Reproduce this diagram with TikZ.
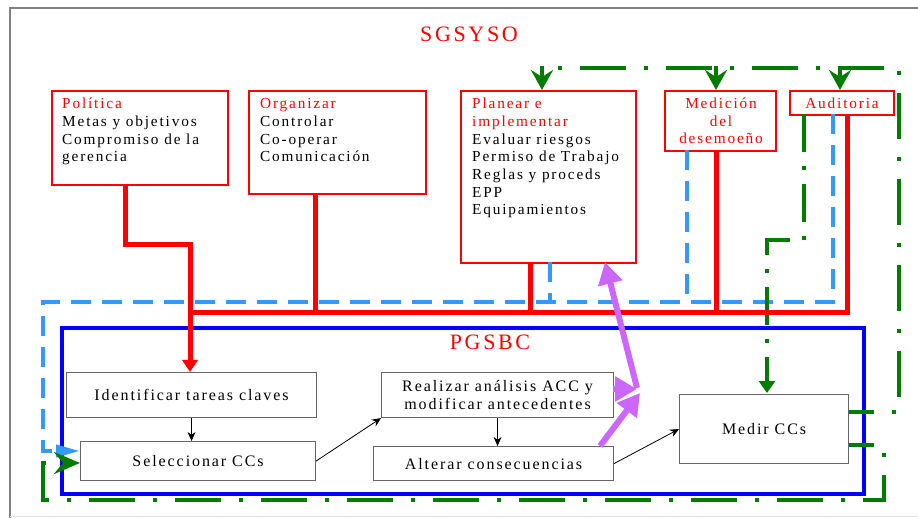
\documentclass[tikz,border=0pt]{standalone}
\usepackage{fontspec}
\setmainfont{Liberation Serif}[LetterSpace=12]
\usetikzlibrary{arrows.meta}
\definecolor{sred}{RGB}{255,0,0}
\definecolor{sblue}{RGB}{0,0,255}
\definecolor{lblue}{RGB}{51,153,255}
\definecolor{dgreen}{RGB}{0,125,0}
\definecolor{violetc}{RGB}{204,102,255}
\definecolor{framegray}{RGB}{128,128,128}
\begin{document}
\begin{tikzpicture}[x=1pt,y=-1pt,
  redbox/.style={draw=sred,line width=1.8pt,inner sep=0pt,anchor=north west},
  boxtxt/.style={inner sep=0pt,anchor=base west,align=left,font=\fontsize{15.3}{17.7}\selectfont},
  ctrtxt/.style={inner sep=0pt,anchor=base,align=center,text=sred,font=\fontsize{15.3}{17.7}\selectfont},
  blkbox/.style={draw=black!60,line width=1.1pt,inner sep=0pt,anchor=north west,align=center,font=\fontsize{16}{17.5}\selectfont},
  redline/.style={draw=sred,line width=5pt},
  bluedash/.style={draw=lblue,line width=4pt,dash pattern=on 20pt off 11pt},
  greendd/.style={draw=dgreen,line width=4pt,dash pattern=on 46pt off 18pt on 4pt off 18pt},
  greenshort/.style={draw=dgreen,line width=4pt,dash pattern=on 38pt off 14pt on 4pt off 14pt},
  garrow/.style={draw=dgreen,line width=4pt,-{Stealth[length=20pt,width=22pt,inset=7pt]}},
  vio/.style={draw=violetc,line width=6pt,-{Triangle[length=22pt,width=24pt]}},
  thinarrow/.style={draw=black,line width=0.8pt,-{Stealth[length=9pt,width=8pt]}},
]
\useasboundingbox (0,0) rectangle (918,518);
% outer frame
\draw[framegray,line width=1.5pt] (925,8) -- (10,8) -- (10,525);
\draw[black!12,line width=1pt] (10,516) -- (918,516);

% titles
\node[inner sep=0pt,text=sred,font=\fontsize{22}{22}\selectfont] (title) at (469,34) {SGSYSO};

% red boxes
\node[redbox,minimum width=176pt,minimum height=94pt] (pol) at (51,90) {};
\node[redbox,minimum width=177pt,minimum height=103pt] (org) at (248,90) {};
\node[redbox,minimum width=175pt,minimum height=172pt] (pla) at (460,90) {};
\node[redbox,minimum width=111pt,minimum height=60pt] (med) at (664,90) {};
\node[redbox,minimum width=104pt,minimum height=24pt] (aud) at (789,90) {};

% texts (anchored at the baseline of their last line)
\node[boxtxt] (polt) at (62,162) {\textcolor{sred}{Política}\\Metas y objetivos\\Compromiso de la\\gerencia};
\node[boxtxt] (orgt) at (260,162) {\textcolor{sred}{Organizar}\\Controlar\\Co-operar\\Comunicación};
\node[boxtxt] (plat) at (472,215) {\textcolor{sred}{Planear e}\\\textcolor{sred}{implementar}\\Evaluar riesgos\\Permiso de Trabajo\\Reglas y proceds\\EPP\\Equipamientos};
\node[ctrtxt] (medt) at (721,144) {Medición\\del\\desemoeño};
\node[ctrtxt] (audt) at (842,109) {Auditoria};

% coordinates for connector ends
\coordinate (polout) at (125,184);
\coordinate (polturn1) at (125,245);
\coordinate (polturn2) at (190,245);
\coordinate (orgout) at (315,193);
\coordinate (plaout) at (530,262);
\coordinate (medout) at (716,150);
\coordinate (audout) at (847,114);
\coordinate (busL) at (190,313);
\coordinate (busR) at (847,313);
\coordinate (plablue) at (550,262);
\coordinate (medblue) at (687,150);
\coordinate (audblue) at (833,114);
\coordinate (bluecR) at (833,302);
\coordinate (bluecL) at (43,302);
\coordinate (bluecB) at (43,451);
\coordinate (selblue) at (80,451);
\coordinate (selgreen) at (80,463);
\coordinate (grnBL) at (43,500);
\coordinate (grnCL) at (43,463);
\coordinate (grnBR) at (884,500);
\coordinate (grnMR) at (884,445);
\coordinate (mccR2) at (848,445);
\coordinate (mccR1) at (848,412);
\coordinate (grnR1) at (899,412);
\coordinate (grnTR) at (899,68);
\coordinate (grnTL) at (542,68);
\coordinate (audgrn) at (804,114);
\coordinate (ag1) at (804,240);
\coordinate (ag2) at (767,240);
\coordinate (mcctop) at (767,393);
\coordinate (vmeet) at (640,393);
\coordinate (altv) at (600,446);
\coordinate (plav) at (605,262);
\coordinate (reav) at (613,389);

% PGSBC frame
\node[draw=sblue,line width=4pt,inner sep=0pt,anchor=north west,minimum width=802pt,minimum height=166pt] (pframe) at (60,326) {};
\node[inner sep=0pt,text=sred,font=\fontsize{22}{22}\selectfont] (ptitle) at (490,342) {PGSBC};

% blue dashed
\draw[bluedash] (plablue) -- (plablue |- bluecR);
\draw[bluedash] (medblue) -- (medblue |- bluecR);
\draw[bluedash,-{Triangle[length=24pt,width=12pt]}] (audblue) -- (bluecR) -- (bluecL) -- (bluecB) -- (selblue);

% green dash-dot
\draw[greendd,dash phase=48pt] (grnTL) -- (grnTR) -- (grnR1) -- (mccR1);
\draw[garrow] (542,66) -- (pla.north -| grnTL);
\draw[garrow] (716,66) -- (716,90);
\draw[garrow] (840,66) -- (840,90);
\draw[greenshort,-{Triangle[length=12pt,width=16pt]}] (audgrn) -- (ag1) -- (ag2) -- (mcctop);
\draw[greendd,dash phase=20pt,-{Stealth[length=26pt,width=22pt,inset=9pt]}] (mccR2) -- (grnMR) -- (grnBR) -- (grnBL) -- (grnCL) -- (selgreen);

% red lines
\draw[redline,-{Triangle[length=12pt,width=15pt]}] (polout) -- (polturn1) -- (polturn2) -- (190,372);
\draw[redline] (orgout) -- (orgout |- busL);
\draw[redline] (plaout) -- (plaout |- busL);
\draw[redline] (medout) -- (medout |- busL);
\draw[redline] (audout) -- (busR) -- (busL);

% black boxes
\node[blkbox,minimum width=250pt,minimum height=45pt] (idt) at (66,372) {Identificar tareas claves};
\node[blkbox,minimum width=235pt,minimum height=39pt] (sel) at (80,441) {Seleccionar CCs};
\node[blkbox,minimum width=232pt,minimum height=45pt] (rea) at (381,372) {Realizar análisis ACC y\\modificar antecedentes};
\node[blkbox,minimum width=240pt,minimum height=34pt] (alt) at (373,446) {Alterar consecuencias};
\node[blkbox,minimum width=169pt,minimum height=69pt] (mcc) at (679,394) {Medir CCs};

% black arrows
\draw[thinarrow] (idt.south) -- (idt.south |- sel.north);
\draw[thinarrow] (sel.east) -- (rea.south west);
\draw[thinarrow] (rea.south) -- (rea.south |- alt.north);
\draw[thinarrow] (alt.east) -- (mcc.west);

% violet arrows
\draw[vio] (altv) -- (vmeet);
\draw[vio] (637,388) -- (plav);
\draw[vio] (reav) -- (637,389);
\end{tikzpicture}
\end{document}
